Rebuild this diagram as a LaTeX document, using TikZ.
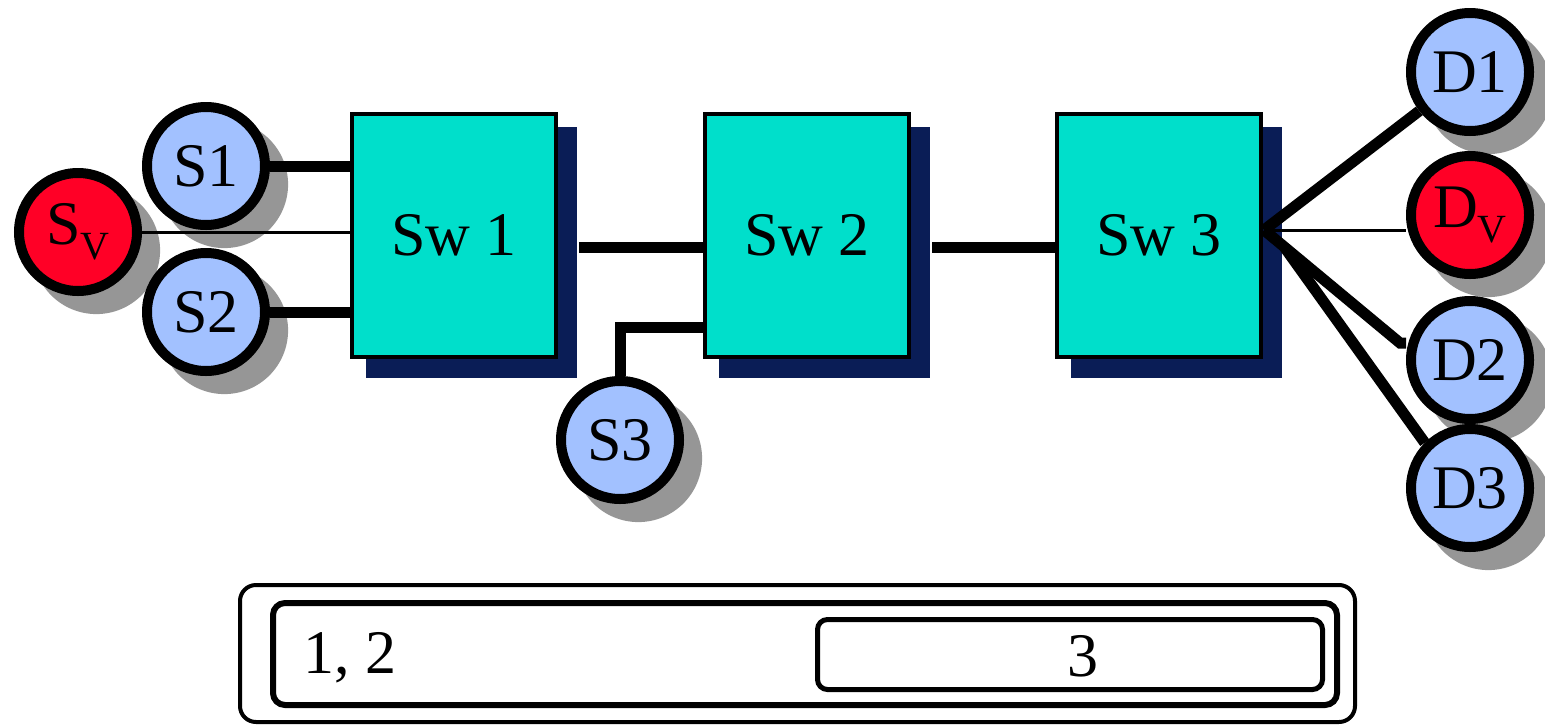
\documentclass[tikz,border=0pt]{standalone}
\usepackage{fontspec}
\setmainfont{Liberation Serif}
\usetikzlibrary{shadows}
\definecolor{netB}{RGB}{162,193,255}
\definecolor{netR}{RGB}{255,0,38}
\definecolor{netT}{RGB}{0,223,203}
\definecolor{netN}{RGB}{10,29,86}
\definecolor{netG}{RGB}{150,150,150}
\newcommand{\bigtxt}{\fontsize{62}{62}\selectfont}
\newcommand{\subV}{\raisebox{-15pt}{\fontsize{40}{40}\selectfont V}}

\begin{document}
\begin{tikzpicture}[x=1pt,y=-1pt,
  host/.style={circle,draw,line width=10pt,fill=netB,minimum size=118pt,inner sep=0pt,font=\bigtxt,
    drop shadow={shadow xshift=17pt,shadow yshift=-17pt,shadow scale=1.08,fill=netG,opacity=1}},
  vhost/.style={host,fill=netR},
  switch/.style={rectangle,draw,line width=4pt,fill=netT,minimum width=204pt,minimum height=243pt,font=\bigtxt,
    drop shadow={shadow xshift=17pt,shadow yshift=-17pt,shadow scale=1.035,fill=netN,opacity=1}},
  wire/.style={line width=11pt},
  thin/.style={line width=3pt},
  frame/.style={draw,rounded corners=#1,inner sep=0pt}]
\useasboundingbox (0,0) rectangle (1545,726);
% end hosts
\node[vhost] (Sv) at (78,232) {S\subV};
\node[host] (S1) at (206,166) {S1};
\node[host] (S2) at (206,312) {S2};
\node[host] (S3) at (620,440) {S3};
\node[host] (D1) at (1470,72) {D1};
\node[vhost] (Dv) at (1470,215) {D\subV};
\node[host] (D2) at (1470,360) {D2};
\node[host] (D3) at (1470,488) {D3};
% switches
\node[switch] (Sw1) at (454,235) {Sw 1};
\node[switch] (Sw2) at (807,235) {Sw 2};
\node[switch] (Sw3) at (1159,235) {Sw 3};
% links
\draw[wire] (S1.east) -- (S1.east -| Sw1.west);
\draw[thin] (Sv.east) -- (Sv.east -| Sw1.west);
\draw[wire] (S2.east) -- (S2.east -| Sw1.west);
\draw[wire] ([shift={(21pt,-12pt)}]Sw1.east) -- ([yshift=-12pt]Sw2.west);
\draw[wire] ([shift={(21pt,-12pt)}]Sw2.east) -- ([yshift=-12pt]Sw3.west);
\draw[wire] (S3.north) |- ([yshift=-92pt]Sw2.west);
\coordinate (fan) at ([shift={(1pt,5pt)}]Sw3.east);
\coordinate (fanlow) at ([shift={(21pt,-18pt)}]fan);
\draw[wire] (fan) -- (D1);
\draw[thin] (fan) -- (fan -| Dv.west);
\draw[wire] (fan) -- ([shift={(-6pt,17pt)}]D2.west) -- ([yshift=17pt]D2.west);
\draw[wire] (fanlow) -- (D3.north west);
% frames below
\node[frame=16pt,line width=4pt,minimum width=1115pt,minimum height=137pt] (outer) at (797.5,653.5) {};
\node[frame=12pt,line width=6pt,minimum width=1064pt,minimum height=102pt] (inner) at (805,654) {};
\node[frame=10pt,line width=5pt,minimum width=505pt,minimum height=70pt] (box3) at (1070,654.5) {};
\node[font=\bigtxt] (lbl12) at (350,658) {1, 2};
\node[font=\bigtxt] (lbl3) at (1083,656) {3};
\end{tikzpicture}
\end{document}
